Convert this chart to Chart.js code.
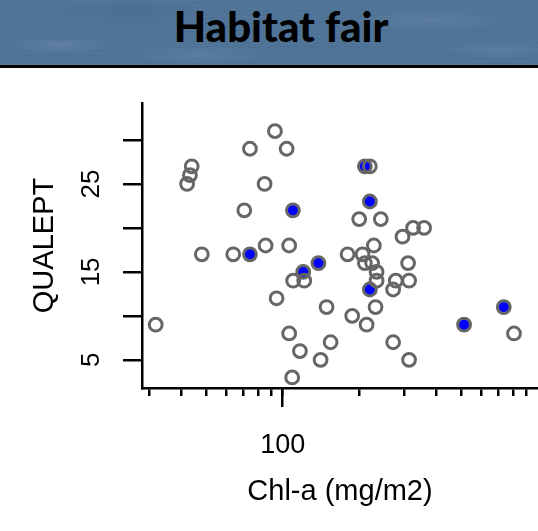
<!DOCTYPE html>
<html>
<head>
<meta charset="utf-8">
<title>Habitat fair</title>
<script src="https://cdn.jsdelivr.net/npm/chart.js@4/dist/chart.umd.min.js"></script>
<style>
  html, body { margin: 0; padding: 0; background: #fff; }
  body { width: 538px; height: 531px; position: relative; overflow: hidden; }
  /* mottled slate-blue banner with the heading */
  #banner {
    position: absolute; left: 0; top: 0; width: 538px; height: 65px;
    border-bottom: 3px solid #000;
    background-color: #4f7397;
    background-image:
      repeating-linear-gradient(0deg, rgba(255,255,255,0.025) 0 1px, rgba(0,0,0,0) 1px 4px),
      radial-gradient(ellipse 50px 8px at 60px 45px, rgba(255,255,255,0.09), rgba(0,0,0,0)),
      radial-gradient(ellipse 70px 10px at 200px 55px, rgba(255,255,255,0.06), rgba(0,0,0,0)),
      radial-gradient(ellipse 80px 10px at 430px 20px, rgba(255,255,255,0.07), rgba(0,0,0,0)),
      radial-gradient(ellipse 60px 9px at 500px 50px, rgba(255,255,255,0.06), rgba(0,0,0,0)),
      radial-gradient(ellipse 90px 12px at 130px 12px, rgba(0,0,0,0.05), rgba(0,0,0,0));
  }
  #banner h1 {
    position: absolute; left: 0; top: 5px; width: 562px; margin: 0;
    text-align: center; font: 900 42px Lato, 'Noto Sans', sans-serif; line-height: 42px; color: #000;
  }
  #plot { position: absolute; left: 0; top: 0; }
</style>
</head>
<body>
<div id="banner"><h1>Habitat fair</h1></div>
<canvas id="plot" width="538" height="531"></canvas>
<script>
// --- DATA: Chl-a (mg/m2) vs QUALEPT ---
// open grey sites
const chlOpen = [93.2, 74.4, 103.6, 44.0, 43.3, 42.2, 84.9, 70.7, 48.2, 64.0,
                 85.7, 106.0, 109.9, 121.4, 94.6, 148.5, 31.8, 106.0, 116.8, 140.7,
                 108.9, 154.0, 179.5, 205.4, 227.5, 294.6, 209.8, 224.0, 233.1, 233.1,
                 309.8, 277.3, 312.6, 270.7, 187.1, 231.0, 213.1, 805.4, 270.7, 312.6,
                 219.4, 199.3, 242.2, 324.1, 357.9];
const qualOpen = [31, 29, 29, 27, 26, 25, 25, 22, 17, 17,
                  18, 18, 14, 14, 12, 11, 9, 8, 6, 5,
                  3, 7, 17, 17, 18, 19, 16, 16, 15, 14,
                  16, 14, 14, 13, 10, 11, 9, 8, 7, 5,
                  27, 21, 21, 20, 20];
// highlighted (blue) sites
const chlBlue = [109.6, 74.4, 138.0, 120.3, 219.4, 209.8, 219.4, 513.3, 734.4];
const qualBlue = [22, 17, 16, 15, 13, 27, 23, 9, 11];

// axis ticks
const xMinorTicks = [30, 40, 50, 60, 70, 80, 90, 100, 200, 300, 400, 500, 600, 700, 800, 900];
const xLabelTicks = [100];
const yTicks = [5, 10, 15, 20, 25, 30];
const yLabelTicks = [5, 15, 25];

Chart.defaults.font.family = "'Liberation Sans', Arial, sans-serif";
Chart.defaults.color = '#000';

function toPoints(xs, ys) {
    return xs.map((x, i) => ({ x: x, y: ys[i] }));
}

const pointStyle = {
    pointRadius: 6.4,
    pointHoverRadius: 6.4,
    pointBorderWidth: 3,
    borderColor: '#666666'
};

new Chart(document.getElementById('plot'), {
    type: 'scatter',
    data: {
        datasets: [
            Object.assign({ label: 'open', data: toPoints(chlOpen, qualOpen), backgroundColor: 'rgba(0,0,0,0)' }, pointStyle),
            Object.assign({ label: 'blue', data: toPoints(chlBlue, qualBlue), backgroundColor: '#0000ff' }, pointStyle)
        ]
    },
    options: {
        responsive: false,
        animation: false,
        devicePixelRatio: 1,
        events: [],
        // plot area runs right to the page edge; no extra room for point overflow
        layout: { autoPadding: false, padding: { top: 103, left: 0, right: 0, bottom: 0 } },
        plugins: { legend: { display: false }, tooltip: { enabled: false } },
        scales: {
            // axis line + short minor ticks, zero height so the next axis starts on the same line
            x: {
                type: 'logarithmic', position: 'bottom', weight: -1,
                min: 28.1, max: 1000, bounds: 'data',
                afterBuildTicks: s => { s.ticks = xMinorTicks.map(v => ({ value: v })); },
                afterFit: s => { s.height = 0; },
                border: { display: true, color: '#000', width: 2.5 },
                grid: { drawOnChartArea: false, drawTicks: true, tickLength: 8, color: '#000', lineWidth: 2.5 },
                ticks: { autoSkip: false, maxRotation: 0, callback: () => '' }
            },
            // long tick + "100" label + axis title
            xMajor: {
                type: 'logarithmic', axis: 'x', position: 'bottom', weight: 0,
                min: 28.1, max: 1000, bounds: 'data',
                afterBuildTicks: s => { s.ticks = xLabelTicks.map(v => ({ value: v })); },
                afterFit: s => { s.height = 143; },
                border: { display: false },
                grid: { drawOnChartArea: false, drawTicks: true, tickLength: 19, color: '#000', lineWidth: 2.5 },
                ticks: { autoSkip: false, maxRotation: 0, padding: 22, font: { size: 27 }, callback: v => String(v) },
                title: { display: true, text: 'Chl-a (mg/m2)', font: { size: 29 }, padding: { top: 0, bottom: 22 } }
            },
            y: {
                type: 'linear', position: 'left',
                min: 1.8, max: 34.2, bounds: 'data',
                afterBuildTicks: s => { s.ticks = yTicks.map(v => ({ value: v })); },
                afterFit: s => { s.width = 142; },
                border: { display: true, color: '#000', width: 2.5 },
                grid: { drawOnChartArea: false, drawTicks: true, tickLength: 19, color: '#000', lineWidth: 2.5 },
                ticks: {
                    autoSkip: false, minRotation: 90, maxRotation: 90, crossAlign: 'center', padding: 17,
                    font: { size: 26 },
                    callback: v => yLabelTicks.includes(v) ? String(v) : ''
                },
                title: { display: true, text: 'QUALEPT', font: { size: 29 }, padding: { top: 28, bottom: 0 } }
            }
        }
    }
});
</script>
</body>
</html>
